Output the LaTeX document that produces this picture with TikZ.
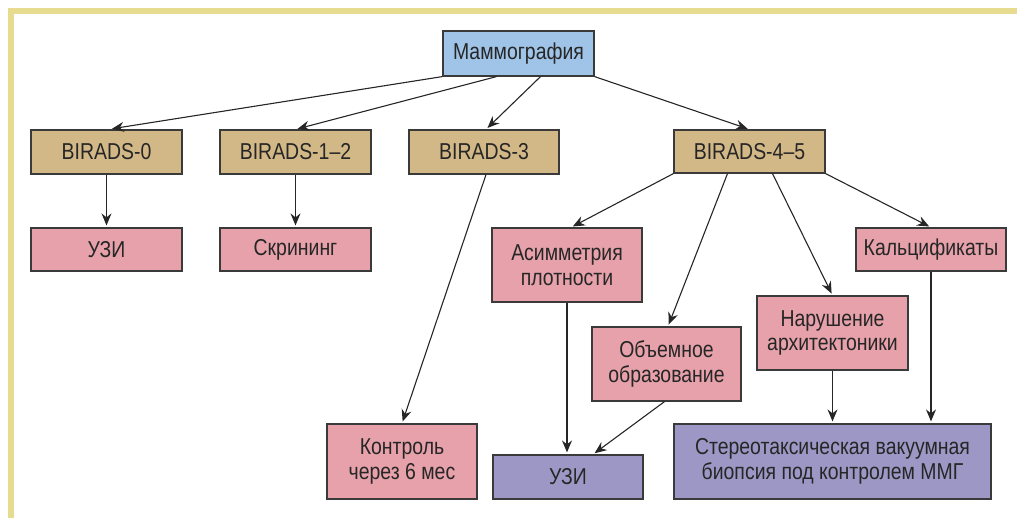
\documentclass[tikz,border=0pt]{standalone}
\usepackage{fontspec}
\setmainfont{Liberation Sans}[FakeStretch=0.845]
\usetikzlibrary{arrows.meta}
\definecolor{framey}{HTML}{E6DB8E}
\definecolor{topblue}{HTML}{A0C4E8}
\definecolor{birtan}{HTML}{D3B887}
\definecolor{findpink}{HTML}{E6A1AA}
\definecolor{actpurple}{HTML}{9D97C5}
\definecolor{edgegray}{HTML}{3A3A3A}
\tikzset{
  box/.style={draw=edgegray, line width=1.2pt, inner sep=0pt, align=center,
    text=black!85, font=\fontsize{23}{24.5}\selectfont},
  arr/.style={-{Stealth[length=12pt,width=10pt,inset=4pt]}, line width=1.1pt,
    black!85, shorten >=2pt}
}
\begin{document}
\begin{tikzpicture}[x=1pt, y=-1pt]
\useasboundingbox (0,0) rectangle (1017,518);
% Frame
\fill[framey] (8,8) rectangle (1017,14);
\fill[framey] (8,8) rectangle (14,518);

% Top level
\node[box, fill=topblue, minimum width=151pt, minimum height=45pt] (mmg) at (518.5,53.5) {Маммография};

% BIRADS categories
\node[box, fill=birtan, minimum width=151pt, minimum height=44pt] (bir0) at (106.5,152) {BIRADS-0};
\node[box, fill=birtan, minimum width=151pt, minimum height=44pt] (bir12) at (295.5,152) {BIRADS-1--2};
\node[box, fill=birtan, minimum width=150pt, minimum height=44pt] (bir3) at (484,152) {BIRADS-3};
\node[box, fill=birtan, minimum width=151pt, minimum height=43pt] (bir45) at (749.5,151.5) {BIRADS-4--5};

% Findings
\node[box, fill=findpink, minimum width=151pt, minimum height=43pt] (uzi1) at (106.5,249.5) {УЗИ};
\node[box, fill=findpink, minimum width=151pt, minimum height=43pt] (scr) at (295.5,249.5) {Скрининг};
\node[box, fill=findpink, minimum width=150pt, minimum height=74pt] (asym) at (567,265) {Асимметрия\\плотности};
\node[box, fill=findpink, minimum width=150pt, minimum height=43pt] (calc) at (931,249.5) {Кальцификаты};
\node[box, fill=findpink, minimum width=151pt, minimum height=74pt] (arch) at (832.5,333) {Нарушение\\архитектоники};
\node[box, fill=findpink, minimum width=149pt, minimum height=74pt] (mass) at (666.5,364) {Объемное\\образование};
\node[box, fill=findpink, minimum width=150pt, minimum height=75pt] (ctrl) at (402,461.5) {Контроль\\через 6 мес};

% Actions
\node[box, fill=actpurple, minimum width=150pt, minimum height=44pt] (uzi2) at (568,477) {УЗИ};
\node[box, fill=actpurple, minimum width=317pt, minimum height=75pt] (bio) at (832.5,461.5) {Стереотаксическая вакуумная\\биопсия под контролем ММГ};

% Connectors
\draw[arr, shorten >=4pt] (mmg.south west) -- ([xshift=1.5pt]bir0.north);
\draw[arr] ([xshift=-22pt]mmg.south) -- (bir12.north);
\draw[arr] ([xshift=22pt]mmg.south) -- ([xshift=2pt]bir3.north);
\draw[arr] (mmg.south east) -- (bir45.north);
\draw[arr] (bir0.south) -- (uzi1.north);
\draw[arr] (bir12.south) -- (scr.north);
\draw[arr] ([xshift=2pt]bir3.south) -- (ctrl.north);
\draw[arr] (bir45.south west) -- ([xshift=4pt]asym.north);
\draw[arr] ([xshift=-22pt]bir45.south) -- ([xshift=1.5pt]mass.north);
\draw[arr] ([xshift=23pt]bir45.south) -- (arch.north);
\draw[arr] (bir45.south east) -- (calc.north);
\draw[arr] (asym.south) -- (asym.south |- uzi2.north);
\draw[arr] ([xshift=-2pt]mass.south) -- ([xshift=25pt]uzi2.north);
\draw[arr] (arch.south) -- (arch.south |- bio.north);
\draw[arr] (calc.south) -- (calc.south |- bio.north);
\end{tikzpicture}
\end{document}
